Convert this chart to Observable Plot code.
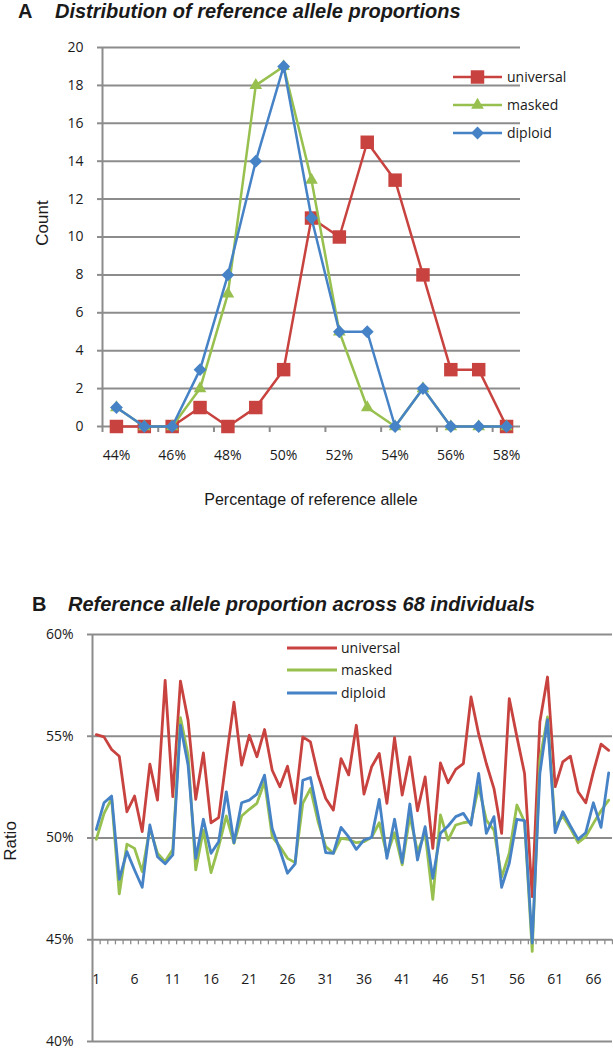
<!DOCTYPE html>
<html><head><meta charset="utf-8">
<script src="https://cdn.jsdelivr.net/npm/d3@7"></script>
<script src="https://cdn.jsdelivr.net/npm/@observablehq/plot@0.6"></script>
<style>
body{margin:0;background:#fff;}
#wrap{position:relative;width:613px;height:1050px;overflow:hidden;font-family:"Liberation Sans",Arial,sans-serif;color:#1a1a1a;}
.abs{position:absolute;white-space:nowrap;line-height:1.1;}
.ttl{font-weight:bold;font-size:20px;}
.it{font-style:italic;}
.axt{font-size:17px;}
.panel{position:absolute;left:0;}
</style></head><body><div id="wrap"></div>
<script>
// ---------- Panel A data ----------
const pctCategories = [44,45,46,47,48,49,50,51,52,53,54,55,56,57,58];
const universalCounts = [0,0,0,1,0,1,3,11,10,15,13,8,3,3,0];
const maskedCounts    = [1,0,0,2,7,18,19,13,5,1,0,2,0,0,0];
const diploidCounts   = [1,0,0,3,8,14,19,11,5,5,0,2,0,0,0];
const pctTickLabels = [44,46,48,50,52,54,56,58];
const countTicks = [0,2,4,6,8,10,12,14,16,18,20];

// ---------- Panel B data ----------
const universalRatio = [55.08,54.97,54.35,54.02,51.29,52.06,50.31,53.63,51.86,57.75,52.03,57.71,55.78,51.9,54.18,50.75,51.0,53.9,56.68,53.58,55.05,53.99,55.33,53.33,52.52,53.53,51.7,54.97,54.72,53.09,51.94,51.37,53.9,53.1,55.54,52.16,53.5,54.15,51.7,54.93,52.11,53.99,51.34,53.0,49.49,53.69,52.71,53.37,53.66,56.93,55.1,53.66,52.43,50.23,56.85,54.97,53.17,47.12,55.7,57.91,52.52,53.74,54.02,52.27,51.73,53.25,54.61,54.31];
const maskedRatio = [49.93,51.2,51.94,47.25,49.7,49.49,48.35,50.47,49.25,48.84,49.44,55.92,54.07,48.43,50.39,48.3,49.58,51.08,49.74,51.08,51.41,51.7,52.76,50.07,49.58,49.0,48.79,51.7,52.43,50.8,49.58,49.25,49.98,49.93,49.77,49.82,50.03,50.75,49.17,50.26,48.68,51.08,49.33,50.23,46.99,51.13,49.9,50.64,50.75,50.8,52.52,50.88,50.39,48.07,49.25,51.62,50.8,44.43,53.82,55.95,50.56,51.08,50.47,49.77,50.07,50.72,51.34,51.86];
const diploidRatio = [50.42,51.73,52.06,47.97,49.33,48.43,47.58,50.64,49.08,48.73,49.17,55.54,53.58,49.0,50.92,49.25,49.82,52.27,49.77,51.73,51.86,52.16,53.09,50.47,49.41,48.27,48.73,52.84,52.97,51.13,49.28,49.25,50.52,50.05,49.44,49.9,50.03,51.9,49.0,50.92,48.79,51.67,48.92,50.56,48.02,50.23,50.59,51.05,51.21,50.64,53.17,50.23,51.05,47.58,48.76,50.92,50.85,44.84,53.17,55.82,50.26,51.29,50.59,49.93,50.26,51.73,50.52,53.2];
const individuals = d3.range(1, universalRatio.length + 1);
const indTickLabels = [1,6,11,16,21,26,31,36,41,46,51,56,61,66];
const ratioTicks = [40,45,50,55,60];
const AXIS_CROSS = 45;   // category axis crosses value axis at 45%
const TICK_DROP = 0.25;

const seriesNames = ["universal","masked","diploid"];
const COLORS = {universal:"#C8433F", masked:"#97C04F", diploid:"#4682C6"};
const GRID = "#8c8c8c";
const TEXT = "#1a1a1a";

const wrap = document.getElementById("wrap");
function addDiv(cls, text, css){
  const d = document.createElement("div");
  d.className = "abs " + cls; d.textContent = text;
  Object.assign(d.style, css); wrap.appendChild(d); return d;
}

// ---------- Panel A ----------
const catBoundsA = d3.range(pctCategories[0]-0.5, pctCategories[pctCategories.length-1], 2);
const symA = {universal:{symbol:"square", r:7.6}, masked:{symbol:"triangle", r:4.7}, diploid:{symbol:"diamond2", r:5.8}};
const countsA = {universal:universalCounts, masked:maskedCounts, diploid:diploidCounts};

const marksA = [
  Plot.gridY(countTicks, {stroke:GRID, strokeOpacity:1, strokeWidth:2}),
  Plot.axisY(countTicks, {tickSize:5, tickPadding:14, stroke:GRID, strokeWidth:2, label:null, fontSize:14}),
  Plot.axisX(catBoundsA, {tickSize:6, tickFormat:() => "", stroke:GRID, strokeWidth:2, label:null}),
  Plot.axisX(pctTickLabels, {tickSize:0, tickPadding:24, tickFormat:d => d + "%", label:null, fontSize:14}),
  Plot.ruleX([pctCategories[0]-0.5], {stroke:GRID, strokeWidth:2})
];
for (const s of seriesNames) {
  const vals = countsA[s];
  marksA.push(Plot.line(pctCategories, {x:d => d, y:(d,i) => vals[i], stroke:COLORS[s], strokeWidth:2.5}));
  marksA.push(Plot.dot(pctCategories, {x:d => d, y:(d,i) => vals[i], symbol:symA[s].symbol, r:symA[s].r, fill:COLORS[s], stroke:"none"}));
}
const plotA = Plot.plot({
  width:613, height:500, marginTop:47, marginBottom:74, marginLeft:102, marginRight:93,
  x:{type:"linear", domain:[pctCategories[0]-0.5, pctCategories[pctCategories.length-1]+0.5], label:null},
  y:{domain:[0,20], label:null},
  style:{fontFamily:"'Open Sans', sans-serif", fontSize:"14px", color:TEXT, background:"transparent", overflow:"visible"},
  marks:marksA
});
plotA.classList.add("panel"); plotA.style.top = "0px";
wrap.appendChild(plotA);

// ---------- Panel B ----------
const indBounds = d3.range(0.5, individuals.length + 1, 1);
const ratios = {universal:universalRatio, masked:maskedRatio, diploid:diploidRatio};
const marksB = [
  Plot.gridY(ratioTicks, {stroke:GRID, strokeOpacity:1, strokeWidth:2}),
  Plot.axisY(ratioTicks, {tickSize:5, tickPadding:14, tickFormat:d => d + "%", stroke:GRID, strokeWidth:2, label:null, fontSize:14}),
  Plot.ruleX([0.5], {stroke:GRID, strokeWidth:2}),
  Plot.ruleX(indBounds, {y1:AXIS_CROSS, y2:AXIS_CROSS - TICK_DROP, stroke:GRID, strokeWidth:1.3}),
  Plot.text(indTickLabels, {x:d => d, y:() => AXIS_CROSS, dy:40, text:d => String(d), fontSize:14, fill:TEXT})
];
for (const s of seriesNames) {
  const vals = ratios[s];
  marksB.push(Plot.line(individuals, {x:d => d, y:(d,i) => vals[i], stroke:COLORS[s], strokeWidth:2.8}));
}
const plotB = Plot.plot({
  width:613, height:490, marginTop:74, marginBottom:9, marginLeft:92, marginRight:1,
  x:{type:"linear", domain:[0.5, individuals.length + 0.5], label:null, axis:null},
  y:{domain:[40,60], label:null},
  style:{fontFamily:"'Open Sans', sans-serif", fontSize:"14px", color:TEXT, background:"transparent", overflow:"visible"},
  marks:marksB
});
plotB.classList.add("panel"); plotB.style.top = "560px";
wrap.appendChild(plotB);

// ---------- Titles ----------
addDiv("ttl", "A", {left:"18px", top:"0px"});
addDiv("ttl it", "Distribution of reference allele proportions", {left:"55px", top:"0px"});
addDiv("ttl", "B", {left:"32px", top:"593px"});
addDiv("ttl it", "Reference allele proportion across 68 individuals", {left:"68px", top:"593px"});
addDiv("axt", "Count", {left:"43px", top:"223px", transform:"translate(-50%,-50%) rotate(-90deg)"});
addDiv("axt", "Percentage of reference allele", {left:"311px", top:"500px", transform:"translate(-50%,-50%)", fontSize:"16px"});
addDiv("axt", "Ratio", {left:"11px", top:"841px", transform:"translate(-50%,-50%) rotate(-90deg)"});

// ---------- Legends ----------
const ov = d3.select(wrap).append("svg").attr("width",613).attr("height",1050)
  .style("position","absolute").style("left","0").style("top","0");
const legA = {x0:453, x1:502, tx:507, ys:[77,105,133]};
const symMap = {square:d3.symbolSquare, triangle:d3.symbolTriangle, diamond2:d3.symbolDiamond2};
seriesNames.forEach((s,i) => {
  const y = legA.ys[i];
  ov.append("line").attr("x1",legA.x0).attr("x2",legA.x1).attr("y1",y).attr("y2",y)
    .attr("stroke",COLORS[s]).attr("stroke-width",2.5);
  ov.append("path").attr("d", d3.symbol(symMap[symA[s].symbol], Math.PI*symA[s].r*symA[s].r)())
    .attr("transform",`translate(${(legA.x0+legA.x1)/2},${y})`).attr("fill",COLORS[s]);
  ov.append("text").attr("x",legA.tx).attr("y",y).attr("dy","0.35em").text(s)
    .attr("font-family","'Open Sans', sans-serif").attr("font-size",14).attr("fill",TEXT);
});
const legB = {x0:287, x1:337, tx:341, ys:[648,670,693]};
seriesNames.forEach((s,i) => {
  const y = legB.ys[i];
  ov.append("line").attr("x1",legB.x0).attr("x2",legB.x1).attr("y1",y).attr("y2",y)
    .attr("stroke",COLORS[s]).attr("stroke-width",3);
  ov.append("text").attr("x",legB.tx).attr("y",y).attr("dy","0.35em").text(s)
    .attr("font-family","'Open Sans', sans-serif").attr("font-size",14).attr("fill",TEXT);
});
</script></body></html>
